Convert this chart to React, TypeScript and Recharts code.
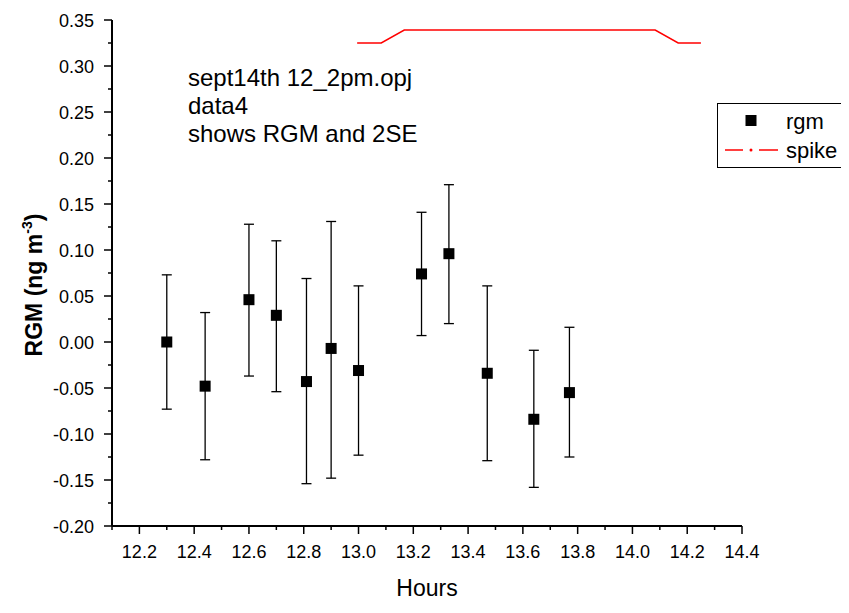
import React from 'react';
import { ComposedChart, Scatter, Line, XAxis, YAxis, ErrorBar } from 'recharts';

// RGM measurements (hours, value, upper and lower 2SE limits)
const hours = [12.3, 12.44, 12.6, 12.7, 12.81, 12.9, 13.0, 13.23, 13.33, 13.47, 13.64, 13.77];
const rgm = [0.0, -0.048, 0.046, 0.029, -0.043, -0.007, -0.031, 0.074, 0.096, -0.034, -0.084, -0.055];
const upper = [0.073, 0.032, 0.128, 0.11, 0.069, 0.131, 0.061, 0.141, 0.171, 0.061, -0.009, 0.016];
const lower = [-0.073, -0.128, -0.037, -0.054, -0.154, -0.148, -0.123, 0.007, 0.02, -0.129, -0.158, -0.125];

// spike marker
const spikeHours = [12.995, 13.083, 13.167, 13.25, 13.333, 13.417, 13.5, 13.583, 13.667, 13.75, 13.833, 13.917, 14.0, 14.083, 14.167, 14.25];
const spikeValues = [0.325, 0.325, 0.339, 0.339, 0.339, 0.339, 0.339, 0.339, 0.339, 0.339, 0.339, 0.339, 0.339, 0.339, 0.325, 0.325];

// axis ticks
const xMajorTicks = [12.2, 12.4, 12.6, 12.8, 13.0, 13.2, 13.4, 13.6, 13.8, 14.0, 14.2, 14.4];
const yMajorTicks = [-0.2, -0.15, -0.1, -0.05, 0, 0.05, 0.1, 0.15, 0.2, 0.25, 0.3, 0.35];
const xTicks = Array.from({ length: 24 }, (_, i) => +(12.1 + i * 0.1).toFixed(1));
const yTicks = Array.from({ length: 23 }, (_, i) => +(-0.2 + i * 0.025).toFixed(3));

const rgmData = hours.map((x, i) => ({ x, y: rgm[i], err: [rgm[i] - lower[i], upper[i] - rgm[i]] }));
const spikeData = spikeHours.map((x, i) => ({ x, y: spikeValues[i] }));

const FONT = '"Liberation Sans", Arial, sans-serif';

const isMajor = (list: number[], v: number) => list.some((t) => Math.abs(t - v) < 1e-6);

const XTick = (props: any) => {
  const { x, y, payload } = props;
  const major = isMajor(xMajorTicks, payload.value);
  return (
    <g>
      <line x1={x} y1={y} x2={x} y2={y + (major ? 8 : 4)} stroke="#000" strokeWidth={1.5} />
      {major && (
        <text x={x} y={y + 32} textAnchor="middle" fontSize={18} fontFamily={FONT} fill="#000">
          {payload.value.toFixed(1)}
        </text>
      )}
    </g>
  );
};

const YTick = (props: any) => {
  const { x, y, payload } = props;
  const major = isMajor(yMajorTicks, payload.value);
  return (
    <g>
      <line x1={x - (major ? 8 : 4)} y1={y} x2={x} y2={y} stroke="#000" strokeWidth={1.5} />
      {major && (
        <text x={x - 18} y={y + 6.5} textAnchor="end" fontSize={18} fontFamily={FONT} fill="#000">
          {payload.value.toFixed(2)}
        </text>
      )}
    </g>
  );
};

const Square = (props: any) => {
  const { cx, cy } = props;
  return <rect x={cx - 5.5} y={cy - 5.5} width={11} height={11} fill="#000" />;
};

export default function App() {
  return (
    <div style={{ position: 'relative', width: 833, height: 597, fontFamily: FONT }}>
      <ComposedChart width={833} height={597} margin={{ top: 12, right: 99, bottom: 0, left: 0 }}>
        <XAxis
          type="number"
          dataKey="x"
          domain={[12.1, 14.4]}
          ticks={xTicks}
          interval={0}
          height={79}
          tickSize={0}
          tickMargin={0}
          tickLine={false}
          axisLine={{ stroke: '#000', strokeWidth: 2 }}
          tick={(p: any) => <XTick {...p} />}
          allowDataOverflow
        />
        <YAxis
          type="number"
          dataKey="y"
          domain={[-0.2, 0.35]}
          ticks={yTicks}
          interval={0}
          width={104}
          tickSize={0}
          tickMargin={0}
          tickLine={false}
          axisLine={{ stroke: '#000', strokeWidth: 2 }}
          tick={(p: any) => <YTick {...p} />}
          allowDataOverflow
        />
        <Line
          data={spikeData}
          dataKey="y"
          stroke="#ff0000"
          strokeWidth={1.5}
          dot={false}
          activeDot={false}
          isAnimationActive={false}
        />
        <Scatter data={rgmData} dataKey="y" shape={<Square />} isAnimationActive={false}>
          <ErrorBar dataKey="err" direction="y" width={5} stroke="#000" strokeWidth={1.3} isAnimationActive={false} />
        </Scatter>
      </ComposedChart>

      <svg
        width={833}
        height={597}
        style={{ position: 'absolute', left: 0, top: 0, pointerEvents: 'none' }}
        fontFamily={FONT}
      >
        <text fontSize={24} fill="#000">
          <tspan x={180} y={78}>sept14th 12_2pm.opj</tspan>
          <tspan x={180} y={106}>data4</tspan>
          <tspan x={180} y={134}>shows RGM and 2SE</tspan>
        </text>

        <text x={419} y={588} textAnchor="middle" fontSize={23} fill="#000">
          Hours
        </text>

        <text transform="translate(34,277) rotate(-90)" textAnchor="middle" fontSize={23} fontWeight="bold" fill="#000">
          RGM (ng m
          <tspan dy={-10} fontSize={14}>-3</tspan>
          <tspan dy={10}>)</tspan>
        </text>

        <g transform="translate(709,95)">
          <rect x={0.5} y={0.5} width={130} height={64} fill="#fff" stroke="#000" strokeWidth={1} />
          <rect x={28.5} y={12} width={11} height={11} fill="#000" />
          <text x={69} y={26} fontSize={22} fill="#000">rgm</text>
          <line x1={8} y1={47} x2={26} y2={47} stroke="#ff0000" strokeWidth={1.5} />
          <circle cx={34} cy={47} r={1.5} fill="#ff0000" />
          <line x1={42} y1={47} x2={61} y2={47} stroke="#ff0000" strokeWidth={1.5} />
          <text x={69} y={55} fontSize={22} fill="#000">spike</text>
        </g>
      </svg>
    </div>
  );
}
